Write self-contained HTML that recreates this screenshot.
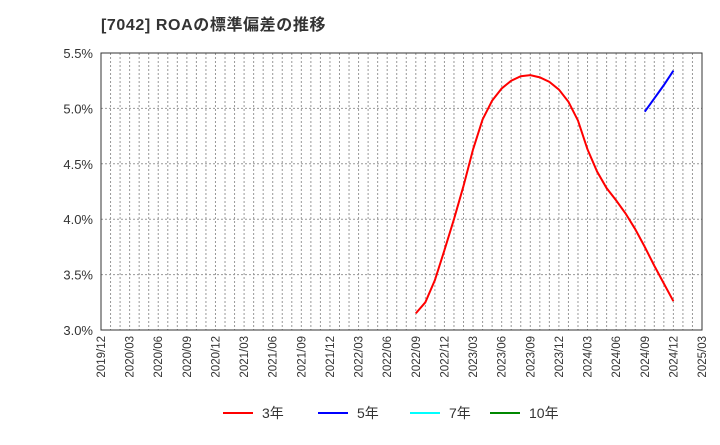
<!DOCTYPE html>
<html><head><meta charset="utf-8"><style>
body{margin:0;background:#fff;font-family:"Liberation Sans","Noto Sans CJK JP",sans-serif;}
</style></head><body>
<svg width="720" height="440" xmlns="http://www.w3.org/2000/svg" id="chart">
<text x="101" y="30" font-size="16" font-weight="bold" fill="#333" letter-spacing="0.6" font-family="Liberation Sans, Noto Sans CJK JP, sans-serif">[7042]  ROAの標準偏差の推移</text>
<g id="grid"></g>
<rect x="101" y="53" width="601" height="277" fill="none" stroke="#333" stroke-width="1"/>
<g id="yl"></g><g id="xl"></g><g id="series"></g>
<g id="legend" font-size="14" fill="#333">
<line x1="223" y1="413" x2="253" y2="413" stroke="#f00" stroke-width="2"/>
<text x="262" y="418">3年</text>
<line x1="318" y1="413" x2="348" y2="413" stroke="#00f" stroke-width="2"/>
<text x="357" y="418">5年</text>
<line x1="410" y1="413" x2="440" y2="413" stroke="#0ff" stroke-width="2"/>
<text x="449" y="418">7年</text>
<line x1="490" y1="413" x2="520" y2="413" stroke="#080" stroke-width="2"/>
<text x="529" y="418">10年</text>
</g>
</svg>
<script>
const xTicks=["2019/12","2020/03","2020/06","2020/09","2020/12","2021/03","2021/06","2021/09","2021/12","2022/03","2022/06","2022/09","2022/12","2023/03","2023/06","2023/09","2023/12","2024/03","2024/06","2024/09","2024/12","2025/03"];
const yTicks=[3.0,3.5,4.0,4.5,5.0,5.5];
const s3Start="2022/09";
const s3=[3.15,3.25,3.45,3.72,4.0,4.3,4.63,4.9,5.07,5.18,5.25,5.29,5.30,5.28,5.24,5.17,5.06,4.89,4.63,4.43,4.28,4.17,4.05,3.91,3.75,3.58,3.42,3.26];
const s5Start="2024/09";
const s5=[4.97,5.09,5.21,5.34];
const NS="http://www.w3.org/2000/svg";
const L=101,R=702,T=53,B=330,M0=2019*12+12,M1=2025*12+3;
const mi=s=>{const[a,b]=s.split("/").map(Number);return a*12+b;};
const xs=m=>L+(m-M0)/(M1-M0)*(R-L);
const ys=v=>B-(v-3.0)/(5.5-3.0)*(B-T);
function mk(t,a,p){const e=document.createElementNS(NS,t);for(const k in a)e.setAttribute(k,a[k]);p.appendChild(e);return e;}
const g=document.getElementById("grid");
for(let m=M0+1;m<M1;m++){const l=mk("line",{x1:xs(m),x2:xs(m),y1:T,y2:B,stroke:"#999","stroke-dasharray":"2,2","stroke-width":1},g);

}
yTicks.forEach(v=>{const l=mk("line",{x1:L,x2:R,y1:ys(v),y2:ys(v),stroke:"#999","stroke-dasharray":"2,2","stroke-width":1},g);


const t=mk("text",{x:L-8,y:ys(v)+5,"text-anchor":"end","font-size":"13",fill:"#333"},document.getElementById("yl"));
t.textContent=v.toFixed(1)+"%";

});
xTicks.forEach(s=>{const x=xs(mi(s));const t=mk("text",{x:x+4,y:B+6,"text-anchor":"end","font-size":"11.5",fill:"#333",transform:`rotate(-90 ${x+4} ${B+6})`},document.getElementById("xl"));
t.textContent=s;

});
function line(data,start,color,name){const m0=mi(start);const pts=data.map((v,i)=>xs(m0+i)+","+ys(v)).join(" ");
const p=mk("polyline",{points:pts,fill:"none",stroke:color,"stroke-width":2},document.getElementById("series"));

}
line(s3,s3Start,"#f00","series-3y");
line(s5,s5Start,"#00f","series-5y");
</script>
</body></html>
